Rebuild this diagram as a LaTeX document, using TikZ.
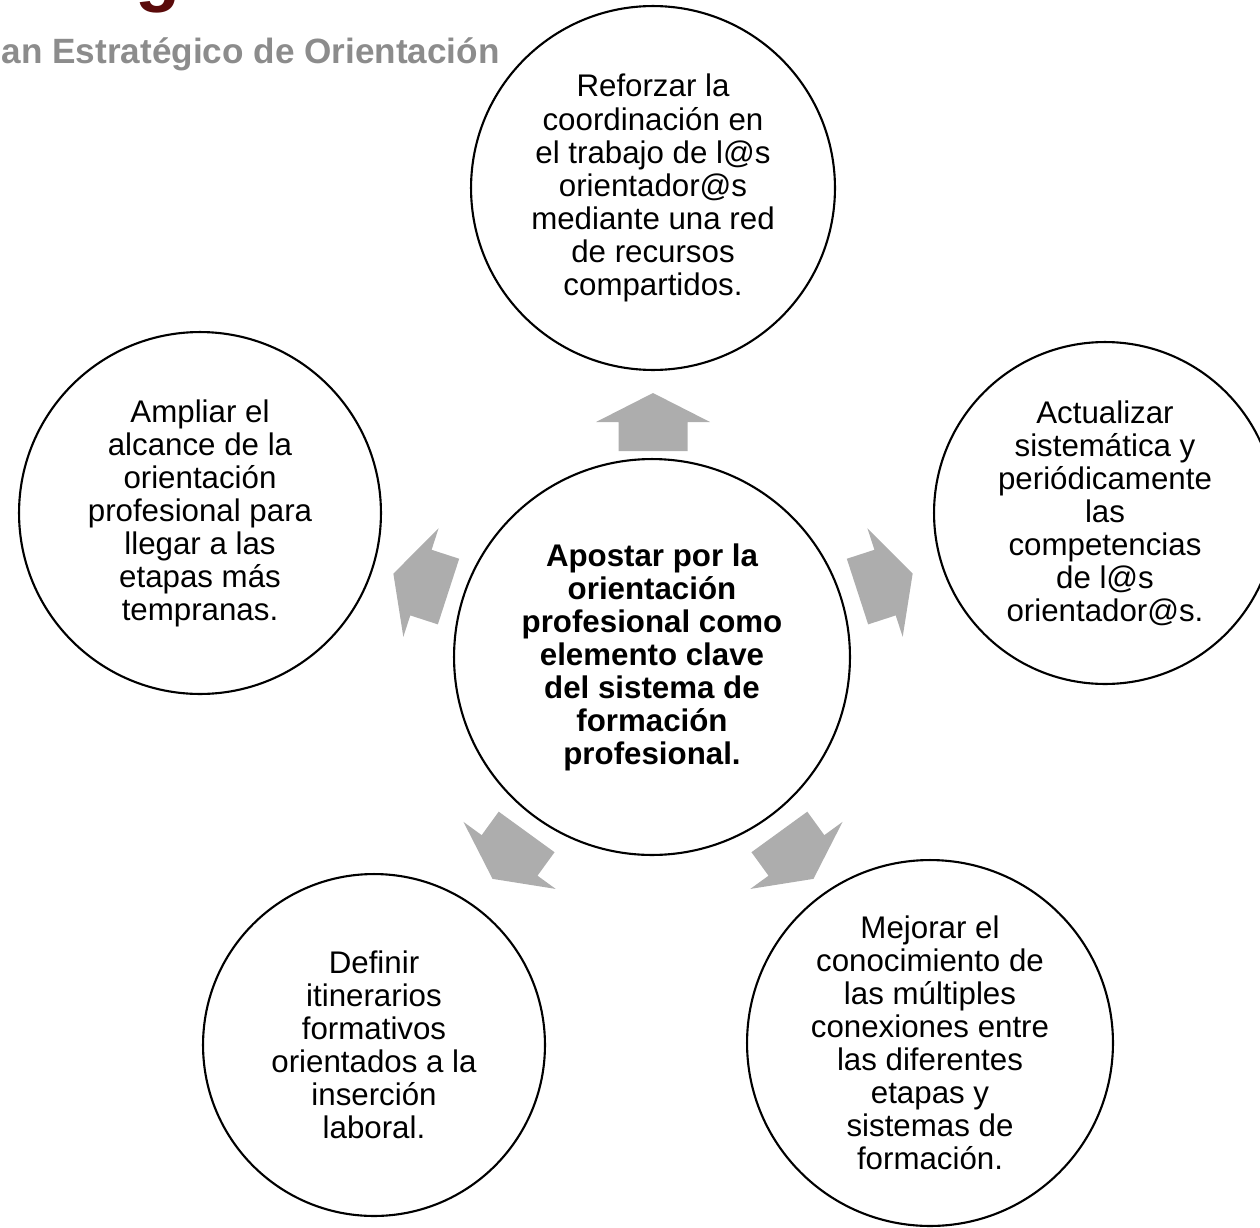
\documentclass[tikz,border=0pt]{standalone}
\usepackage{fontspec}
\setmainfont{Liberation Sans}
\usepackage{xcolor}
\usetikzlibrary{positioning}

\definecolor{arrowgray}{HTML}{ADADAD}
\definecolor{titlegray}{HTML}{8C8C8C}
\definecolor{darkred}{HTML}{5A0A0A}

\begin{document}
\begin{tikzpicture}[
      x=0.02cm, y=-0.02cm,
      idea/.style={circle, draw, line width=1.2pt, inner sep=0pt, align=center,
        font=\fontsize{17.8}{18.8}\selectfont},
      goal/.style={idea, font=\fontsize{17.8}{18.8}\selectfont\bfseries},
      blockarrow/.style={fill=arrowgray, draw=none}
    ]
    \useasboundingbox (0,0) rectangle (1260,1227);
    \clip (0,0) rectangle (1260,1227);

    % Header (cut off by the page)
    \node[anchor=base, text=darkred, inner sep=0pt, font=\fontsize{42}{42}\selectfont\bfseries] (mark) at (158,-3) {g};
    \node[anchor=base east, text=titlegray, inner sep=0pt, font=\fontsize{20}{24}\selectfont\bfseries] (title) at (500,63) {Plan Estratégico de Orientación};

    % Central node
    \node[goal, minimum size=7.92cm] (centre) at (652,657)
      {Apostar por la\\orientación\\profesional como\\elemento clave\\del sistema de\\formación\\profesional.};

    % Surrounding nodes
    \node[idea, minimum size=7.28cm] (top) at (653,188)
      {Reforzar la\\coordinación en\\el trabajo de l@s\\orientador@s\\mediante una red\\de recursos\\compartidos.};
    \node[idea, minimum size=6.84cm] (right) at (1105,513)
      {Actualizar\\sistemática y\\periódicamente\\las\\competencias\\de l@s\\orientador@s.};
    \node[idea, minimum size=7.32cm] (bright) at (930,1043)
      {Mejorar el\\conocimiento de\\las múltiples\\conexiones entre\\las diferentes\\etapas y\\sistemas de\\formación.};
    \node[idea, minimum size=6.84cm] (bleft) at (374,1045)
      {Definir\\itinerarios\\formativos\\orientados a la\\inserción\\laboral.};
    \node[idea, minimum size=7.24cm] (left) at (200,513)
      {Ampliar el\\alcance de la\\orientación\\profesional para\\llegar a las\\etapas más\\tempranas.};

    % Block arrows around the central node
    \foreach \ang/\off in {0/0, 72/8, 144/8, 216/8, 288/8}
      \fill[blockarrow, shift={(653,658)}, rotate=\ang, yshift=\off*0.02cm]
        (-34.5,-207) -- (-34.5,-236) -- (-57,-236) -- (0,-265)
        -- (57,-236) -- (34.5,-236) -- (34.5,-207) -- cycle;

  \end{tikzpicture}
\end{document}
